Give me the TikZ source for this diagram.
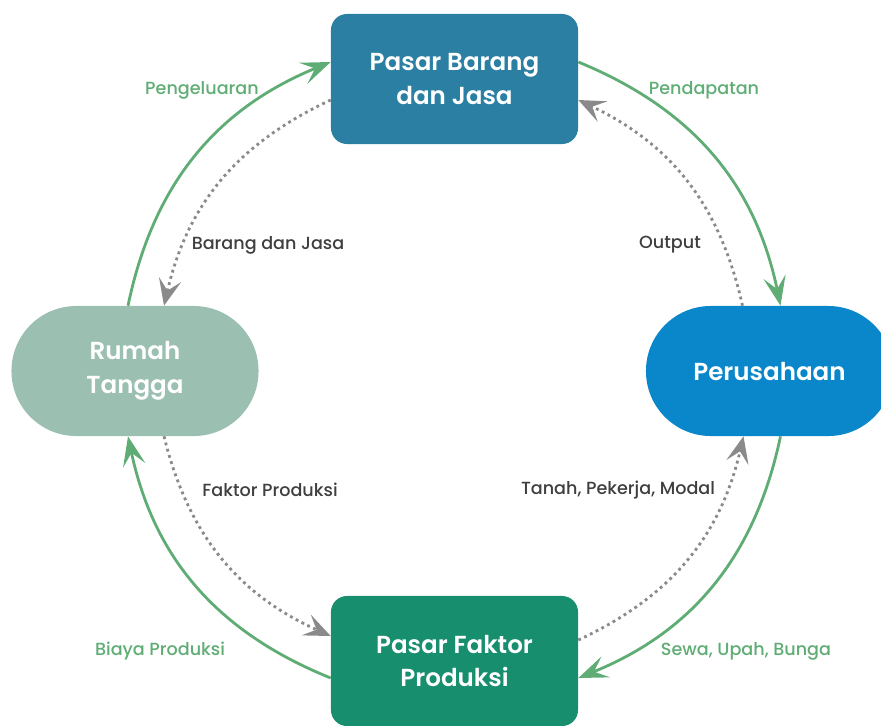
\documentclass[tikz,border=0pt]{standalone}
\usepackage{fontspec}
\setmainfont{Poppins}[BoldFont={Poppins SemiBold}]
\newfontfamily\labelfont{Poppins Medium}
\usetikzlibrary{calc, arrows.meta}

\definecolor{barangblue}{HTML}{2A7FA2}
\definecolor{rumahgreen}{HTML}{9BC0B2}
\definecolor{usahablue}{HTML}{0A87CA}
\definecolor{faktorgreen}{HTML}{178E6E}
\definecolor{flowgreen}{HTML}{5FAD75}
\definecolor{backgray}{HTML}{8A8A8A}
\definecolor{labelgray}{HTML}{3F3F3F}

\begin{document}
\begin{tikzpicture}[x=0.025cm, y=-0.025cm,
        box/.style={text=white, align=center, minimum width=6.175cm, minimum height=3.25cm,
            font=\bfseries\fontsize{17.5}{24}\selectfont},
        flow/.style={draw=flowgreen, line width=2pt, -{Stealth[length=21pt, width=16pt, inset=9pt]}},
        back/.style={draw=backgray, line width=2pt, dash pattern=on 2pt off 2.6pt,
            -{Stealth[length=19pt, width=16pt, inset=8pt]}},
        money/.style={text=flowgreen, font=\labelfont\fontsize{12.5}{15}\selectfont},
        goods/.style={text=labelgray, font=\labelfont\fontsize{12.5}{15}\selectfont}]

    \useasboundingbox (0,0) rectangle (881,725);

    % the four sectors
    \node[box, fill=barangblue, rounded corners=0.4cm] (pbj) at (454.5,79) {Pasar Barang\\dan Jasa};
    \node[box, fill=rumahgreen, rounded corners=1.62cm] (rt) at (135,371) {Rumah\\Tangga};
    \node[box, fill=usahablue, rounded corners=1.62cm] (prs) at (769.5,371) {Perusahaan};
    \node[box, fill=faktorgreen, rounded corners=0.4cm] (pfp) at (454.5,661) {Pasar Faktor\\Produksi};

    % money flow, outer ring
    \draw[flow] ($(rt.north)+(-7,0)$) to[bend left=28] ($(pbj.west)+(0,-17)$);
    \draw[flow] ($(pbj.east)+(0,-17)$) to[bend left=28] ($(prs.north)+(11,0)$);
    \draw[flow] ($(prs.south)+(11,0)$) to[bend left=28] ($(pfp.east)+(0,17)$);
    \draw[flow] ($(pfp.west)+(0,17)$) to[bend left=28] ($(rt.south)+(-7,0)$);

    % goods and factors, inner ring
    \draw[back] ($(pbj.west)+(0,21)$) to[bend right=26] ($(rt.north)+(29,0)$);
    \draw[back] ($(prs.north)+(-27,0)$) to[bend right=26] ($(pbj.east)+(0,21)$);
    \draw[back] ($(rt.south)+(29,0)$) to[bend right=26] ($(pfp.west)+(0,-25)$);
    \draw[back] ($(pfp.east)+(0,-21)$) to[bend right=26] ($(prs.south)+(-26,0)$);

    % labels
    \node[money] (pengeluaran) at (202,90) {Pengeluaran};
    \node[money] (pendapatan) at (704,90) {Pendapatan};
    \node[money] (biaya) at (160,651) {Biaya Produksi};
    \node[money] (sewa) at (746,651) {Sewa, Upah, Bunga};
    \node[goods] (barang) at (268,245) {Barang dan Jasa};
    \node[goods] (output) at (670,245) {Output};
    \node[goods] (faktor) at (270,490) {Faktor Produksi};
    \node[goods] (tanah) at (618,490) {Tanah, Pekerja, Modal};
\end{tikzpicture}
\end{document}
